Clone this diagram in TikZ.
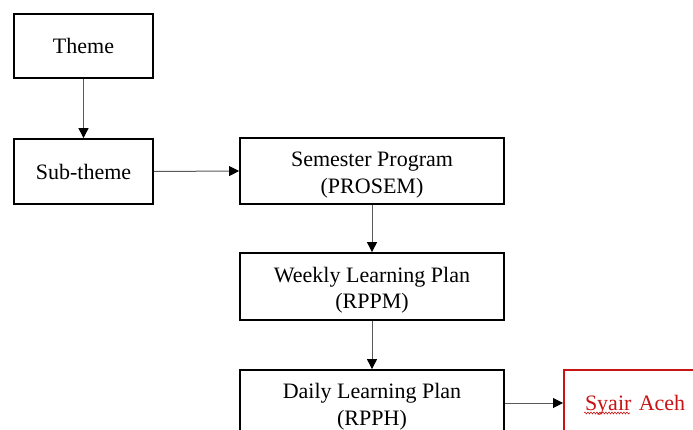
\documentclass[tikz,border=0pt]{standalone}
\usepackage{fontspec}
\setmainfont{Liberation Serif}
\usetikzlibrary{arrows.meta,decorations.pathmorphing}
\definecolor{boxred}{RGB}{200,20,20}
\definecolor{linkgray}{RGB}{90,90,90}
\newcommand{\toppad}{\rule{0pt}{23pt}}
\tikzset{
  box/.style={draw=black, line width=1.8pt, fill=white, align=center,
    font=\fontsize{22}{26.5}\selectfont, inner sep=0pt},
  redbox/.style={draw=boxred, line width=2pt, fill=white,
    text=boxred, font=\fontsize{22}{26.5}\selectfont, inner ysep=0pt,
    inner xsep=21pt, text width=130pt, align=left},
  link/.style={draw=linkgray, line width=1pt,
    -{Triangle[length=10pt,width=10pt,color=black]}},
}
\begin{document}
\begin{tikzpicture}[x=1pt,y=-1pt]
  \useasboundingbox (0,0) rectangle (693,430);
  \fill[white] (0,0) rectangle (693,430);
  \clip (0,0) rectangle (693,430);

  \node[box, minimum width=139pt, minimum height=64pt] (theme) at (83.5,46) {Theme};
  \node[box, minimum width=139pt, minimum height=65pt] (sub) at (83.5,171.5) {Sub-theme};
  \node[box, minimum width=264pt, minimum height=66pt] (prosem) at (372,171) {\toppad Semester Program\\(PROSEM)};
  \node[box, minimum width=264pt, minimum height=67pt] (rppm) at (372,286.5) {\toppad Weekly Learning Plan\\(RPPM)};
  \node[box, minimum width=264pt, minimum height=66pt] (rpph) at (372,403) {\toppad Daily Learning Plan\\(RPPH)};
  \node[redbox, minimum height=71pt, anchor=west] (syair) at (563,405) {Syair Aceh};

  % spell-check squiggle under the first word
  \draw[boxred, line width=0.6pt, decorate,
        decoration={snake, amplitude=0.9pt, segment length=3pt}]
    ([xshift=21pt,yshift=-8pt]syair.west) -- ++(46,0);

  \draw[link] (theme.south) -- (sub.north);
  \draw[link] (sub.east) -- (prosem.west);
  \draw[link] (prosem.south) -- (rppm.north);
  \draw[link] (rppm.south) -- (rpph.north);
  \draw[link] (rpph.east |- 0,403) -- (syair.west |- 0,403);
\end{tikzpicture}
\end{document}
